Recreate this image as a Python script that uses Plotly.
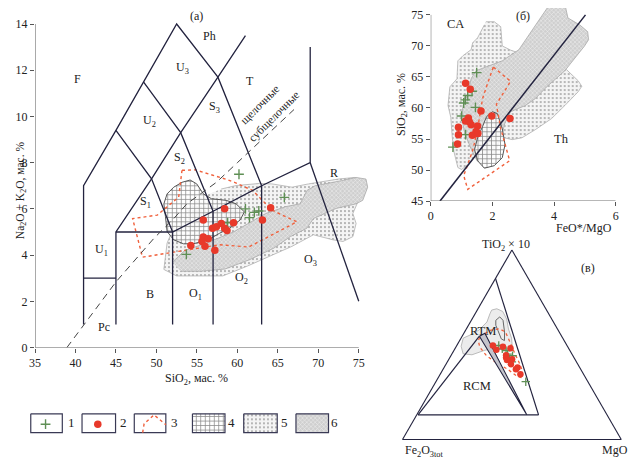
import plotly.graph_objects as go

W, H = 639, 469
OFF = 8  # page body margin of the rendered html
FONT = "Liberation Serif"
NAVY = "#23233f"
RED = "#e8392a"
GREEN = "#5f8f55"
REDLINE = "#f0603c"

# ---------------- (a) TAS diagram data ----------------
tas_red_x = [58.43, 55.79, 64.11, 63.1, 56.93, 57.41, 58.02, 58.43, 58.72, 59.53, 54.25, 55.79, 56.4, 55.63, 56.0, 57.22]
tas_red_y = [6.01, 5.52, 6.05, 5.52, 5.16, 5.23, 5.37, 5.16, 5.06, 5.4, 4.42, 4.78, 4.71, 4.59, 4.38, 4.21]
tas_green_x = [60.2, 61.0, 61.5, 62.1, 62.65, 58.8, 53.7, 65.8]
tas_green_y = [7.5, 6.0, 5.62, 5.85, 5.91, 5.4, 4.03, 6.5]

# field boundaries (Le Bas et al.)
tas_lines = [
    [(41, 1), (41, 7), (45, 9.4), (48.4, 11.5), (52.5, 14), (57.6, 11.7), (63, 7)],
    [(41, 3), (45, 3)],
    [(45, 1), (45, 5), (49.4, 7.3), (53, 9.3), (57.6, 11.7), (61, 13.5)],
    [(45, 9.4), (49.4, 7.3), (52, 5)],
    [(48.4, 11.5), (53, 9.3), (57, 5.9)],
    [(45, 5), (52, 5), (57, 5.9), (63, 7), (69, 8), (69, 13)],
    [(52, 1), (52, 5)],
    [(57, 1), (57, 5.9)],
    [(63, 1), (63, 7)],
    [(69, 8), (75, 2)],
]
tas_dash_x = [38.94, 45.0, 49.7, 52.14, 53.76, 57.41, 60.0, 62.1, 67.0]
tas_dash_y = [0.0, 2.84, 4.73, 5.58, 6.22, 7.15, 8.0, 8.7, 10.3]

tas_f5_x = [58.0, 59.84, 62.7, 64.3, 66.75, 68.78, 72.44, 74.47, 75.68, 75.9, 74.88, 74.27, 74.67, 74.27, 73.05, 71.83, 69.4, 66.75, 61.27, 58.2, 55.39, 52.5, 50.92, 51.12, 51.32, 52.5, 55.5]
tas_f5_y = [6.86, 7.01, 7.1, 7.08, 6.94, 7.08, 7.29, 7.36, 7.15, 6.79, 6.3, 5.8, 5.37, 4.8, 4.59, 4.66, 4.88, 4.38, 3.53, 3.1, 3.1, 3.1, 3.38, 3.88, 4.52, 5.5, 6.5]
tas_f6_x = [52.0, 53.5, 56.0, 59.5, 61.5, 63.5, 66.0, 67.76, 68.6, 69.6, 72.84, 74.67, 75.89, 76.1, 75.49, 74.67, 72.2, 69.4, 68.58, 66.55, 64.5, 61.5, 58.5, 55.5, 53.0]
tas_f6_y = [3.7, 4.2, 4.5, 5.0, 5.4, 5.8, 6.1, 6.22, 6.8, 7.0, 7.22, 7.36, 7.29, 6.94, 6.37, 6.22, 6.02, 5.58, 5.16, 4.8, 4.3, 3.8, 3.4, 3.3, 3.3]
tas_f4_x = [53.16, 54.17, 54.98, 55.8, 56.8, 58.62, 59.84, 60.87, 60.34, 59.04, 57.82, 56.4, 54.57, 53.35, 52.14, 51.32, 51.12, 50.92, 51.32, 52.14]
tas_f4_y = [7.15, 7.25, 7.08, 6.65, 6.44, 6.37, 6.22, 5.87, 5.52, 5.16, 4.95, 4.66, 4.49, 4.49, 4.66, 5.02, 5.66, 6.22, 6.65, 6.94]
tas_f3_x = [53.16, 54.78, 58.43, 59.65, 61.88, 64.3, 67.36, 61.4, 57.83, 51.73, 48.28, 47.06, 50.1, 52.75, 53.16]
tas_f3_y = [7.67, 7.69, 7.3, 7.15, 6.8, 5.94, 5.44, 4.35, 4.45, 4.09, 3.91, 5.58, 5.73, 6.51, 7.67]

tas_labels = [
    ("F", 40.2, 11.6), ("Ph", 56.6, 13.5), ("U<sub>3</sub>", 53.2, 12.1), ("T", 61.5, 11.55),
    ("U<sub>2</sub>", 49.1, 9.8), ("S<sub>3</sub>", 57.2, 10.4), ("S<sub>2</sub>", 52.8, 8.2),
    ("R", 71.9, 7.57), ("S<sub>1</sub>", 48.7, 6.3), ("U<sub>1</sub>", 43.2, 4.24), ("B", 49.2, 2.3),
    ("O<sub>1</sub>", 54.8, 2.3), ("O<sub>2</sub>", 60.5, 3.0), ("O<sub>3</sub>", 69.0, 3.8), ("Pc", 43.5, 0.9),
]
tas_xticks = [35, 40, 45, 50, 55, 60, 65, 70, 75]
tas_yticks = [0, 2, 4, 6, 8, 10, 12, 14]

# ---------------- (б) SiO2 vs FeO*/MgO ----------------
fm_red_x = [1.13, 1.28, 1.63, 1.98, 2.57, 1.22, 1.13, 1.25, 1.31, 1.52, 0.90, 0.90, 1.35, 1.47, 1.53, 0.87]
fm_red_y = [64.0, 63.0, 59.5, 58.7, 58.3, 58.4, 57.9, 57.8, 57.3, 57.1, 56.9, 55.7, 55.6, 56.2, 55.9, 54.2]
fm_green_x = [1.49, 1.34, 1.2, 1.12, 1.07, 1.45, 1.0, 1.13, 0.72]
fm_green_y = [65.7, 62.7, 62.0, 61.3, 60.8, 60.1, 58.7, 55.7, 53.7]
fm_line_x = [0.3, 5.02]
fm_line_y = [45, 75]
fm_f5_x = [1.79, 2.06, 2.27, 2.32, 2.6, 3.4, 4.4, 4.78, 4.9, 4.78, 4.35, 3.92, 3.39, 2.96, 2.64, 2.3, 1.9, 1.5, 1.2, 1.0, 0.88, 0.75, 0.70, 0.65, 0.56, 0.62, 0.85, 0.88, 1.04, 1.31, 1.36, 1.52, 1.74]
fm_f5_y = [73.9, 73.9, 73.1, 70.0, 69.3, 68.0, 66.2, 64.4, 63.5, 62.6, 60.4, 58.3, 56.5, 55.2, 54.9, 55.3, 54.5, 52.5, 50.8, 50.1, 50.4, 53.0, 55.2, 58.5, 60.4, 63.4, 64.7, 67.6, 68.4, 69.4, 70.5, 71.3, 73.4]
fm_f6_x = [1.15, 1.31, 1.47, 1.9, 2.32, 2.86, 3.5, 3.9, 4.13, 4.37, 4.45, 4.83, 5.09, 5.12, 4.99, 4.35, 3.76, 3.39, 3.07, 2.59, 2.4, 2.3, 2.1, 1.8, 1.5, 1.3, 1.1, 1.0, 1.05]
fm_f6_y = [61.5, 64.7, 66.0, 66.8, 67.6, 69.4, 74.2, 77.0, 77.2, 76.3, 74.5, 73.4, 72.3, 71.0, 70.0, 66.0, 63.4, 61.5, 60.4, 59.4, 57.5, 55.5, 53.0, 51.0, 51.5, 53.5, 56.0, 58.5, 60.5]
fm_f4_x = [2.0, 2.16, 2.32, 2.41, 2.32, 2.06, 1.74, 1.52, 1.42, 1.52, 1.68, 1.81]
fm_f4_y = [59.4, 59.1, 56.7, 54.1, 52.0, 50.7, 50.3, 51.5, 53.3, 55.2, 57.0, 58.6]
fm_f3_x = [2.03, 2.59, 2.13, 2.27, 2.56, 1.2, 1.07, 1.35, 1.5, 1.6, 1.68, 1.84, 2.03]
fm_f3_y = [66.6, 64.3, 60.6, 56.7, 51.5, 46.9, 49.1, 53.0, 56.0, 59.0, 61.5, 63.9, 66.6]
fm_xticks = [0, 2, 4, 6]
fm_yticks = [45, 50, 55, 60, 65, 70, 75]

# ---------------- (в) ternary TiO2*10 - Fe2O3tot - MgO ----------------
tr_red_a = [0.496, 0.474, 0.49, 0.481, 0.445, 0.433, 0.424, 0.419, 0.397, 0.38, 0.371, 0.344]
tr_red_b = [0.339, 0.334, 0.296, 0.266, 0.304, 0.31, 0.287, 0.313, 0.306, 0.284, 0.296, 0.289]
tr_red_c = [0.165, 0.192, 0.214, 0.253, 0.251, 0.257, 0.289, 0.268, 0.297, 0.336, 0.333, 0.367]
tr_green_a = [0.496, 0.478, 0.469, 0.451, 0.442, 0.424, 0.41, 0.305]
tr_green_b = [0.312, 0.305, 0.292, 0.294, 0.276, 0.299, 0.295, 0.284]
tr_green_c = [0.192, 0.217, 0.239, 0.255, 0.282, 0.277, 0.295, 0.411]
# boundary lines
tr_lines = [
    [(0.85, 0.15, 0.0), (0.13, 0.313, 0.557)],
    [(0.13, 0.864, 0.006), (0.13, 0.313, 0.557)],
    [(0.13, 0.864, 0.006), (0.545, 0.376, 0.079)],
]
tr_wedge = [(0.545, 0.376, 0.079), (0.561, 0.343, 0.096), (0.13, 0.367, 0.503), (0.545, 0.376, 0.079)]
tr_f5 = [(0.683, 0.251, 0.066), (0.690, 0.224, 0.086), (0.676, 0.204, 0.12), (0.636, 0.206, 0.158),
         (0.583, 0.224, 0.193), (0.535, 0.234, 0.231), (0.481, 0.257, 0.262), (0.471, 0.298, 0.231),
         (0.481, 0.338, 0.181), (0.471, 0.388, 0.141), (0.447, 0.459, 0.094), (0.452, 0.497, 0.051),
         (0.492, 0.486, 0.022), (0.535, 0.455, 0.01), (0.551, 0.416, 0.033), (0.578, 0.361, 0.061),
         (0.620, 0.304, 0.076), (0.663, 0.269, 0.068), (0.683, 0.251, 0.066)]
tr_f3 = [(0.540, 0.376, 0.084), (0.576, 0.313, 0.111), (0.584, 0.264, 0.152), (0.567, 0.246, 0.187),
         (0.513, 0.252, 0.235), (0.46, 0.259, 0.281), (0.406, 0.264, 0.33), (0.362, 0.271, 0.367),
         (0.326, 0.292, 0.382), (0.332, 0.309, 0.359), (0.371, 0.334, 0.295), (0.406, 0.369, 0.225),
         (0.442, 0.395, 0.163), (0.487, 0.403, 0.11), (0.522, 0.393, 0.085), (0.540, 0.376, 0.084)]
tr_f4 = [(0.629, 0.259, 0.112), (0.647, 0.232, 0.121), (0.629, 0.226, 0.145), (0.567, 0.25, 0.183),
         (0.522, 0.273, 0.205), (0.531, 0.283, 0.186), (0.576, 0.276, 0.148), (0.603, 0.272, 0.125),
         (0.629, 0.259, 0.112)]

legend_labels = ["1", "2", "3", "4", "5", "6"]


def pxx(x):
    return (x - OFF) / W


def pxy(y):
    return 1 - (y - OFF) / H


def px(x, y):
    return dict(x=pxx(x), y=pxy(y), xref="paper", yref="paper", xanchor="center", yanchor="middle")


PAT5 = dict(shape=".", size=4, solidity=0.18, fgcolor="#a0a0a0", bgcolor="#f4f4f4", fillmode="replace")
PAT6 = dict(shape="x", size=3, solidity=0.3, fgcolor="#f2f2f2", bgcolor="#cfcfcf", fillmode="replace")
PAT4 = dict(shape="+", size=4.5, solidity=0.3, fgcolor="#888888", bgcolor="rgba(255,255,255,0.85)", fillmode="replace")

fig = go.Figure()


def field(x, y, pat, lc, lw, xa, ya, dash="solid"):
    fig.add_trace(go.Scatter(x=x, y=y, mode="lines", fill="toself", fillpattern=pat,
                             line=dict(color=lc, width=lw, dash=dash), xaxis=xa, yaxis=ya,
                             hoverinfo="skip", showlegend=False))


def outline(x, y, lc, lw, xa, ya, dash="solid"):
    fig.add_trace(go.Scatter(x=x, y=y, mode="lines", line=dict(color=lc, width=lw, dash=dash),
                             xaxis=xa, yaxis=ya, hoverinfo="skip", showlegend=False))


PLUS = dict(symbol="cross-thin", size=7, line=dict(color=GREEN, width=1.4))
DOT = dict(color=RED, size=7.5)

# ----- (a) -----
field(tas_f5_x, tas_f5_y, PAT5, "#b0b0b0", 0.8, "x", "y")
field(tas_f6_x, tas_f6_y, PAT6, "#a8a8a8", 0.8, "x", "y")
field(tas_f4_x + [tas_f4_x[0]], tas_f4_y + [tas_f4_y[0]], PAT4, "#555555", 1.0, "x", "y")
outline(tas_f3_x, tas_f3_y, REDLINE, 1.4, "x", "y", "dot")
lx, ly = [], []
for seg in tas_lines:
    lx += [p[0] for p in seg] + [None]
    ly += [p[1] for p in seg] + [None]
outline(lx, ly, NAVY, 1.3, "x", "y")
outline(tas_dash_x, tas_dash_y, "#444444", 1.0, "x", "y", "7px,5px")
fig.add_trace(go.Scatter(x=tas_green_x, y=tas_green_y, mode="markers", xaxis="x", yaxis="y",
                         marker=PLUS, showlegend=False))
fig.add_trace(go.Scatter(x=tas_red_x, y=tas_red_y, mode="markers", xaxis="x", yaxis="y",
                         marker=DOT, showlegend=False))

# ----- (б) -----
field(fm_f5_x, fm_f5_y, PAT5, "#b0b0b0", 0.8, "x2", "y2")
field(fm_f6_x, fm_f6_y, PAT6, "#a8a8a8", 0.8, "x2", "y2")
field(fm_f4_x + [fm_f4_x[0]], fm_f4_y + [fm_f4_y[0]], PAT4, "#555555", 1.0, "x2", "y2")
outline(fm_f3_x, fm_f3_y, REDLINE, 1.4, "x2", "y2", "dot")
outline(fm_line_x, fm_line_y, NAVY, 1.5, "x2", "y2")
fig.add_trace(go.Scatter(x=fm_green_x, y=fm_green_y, mode="markers", xaxis="x2", yaxis="y2",
                         marker=PLUS, showlegend=False))
fig.add_trace(go.Scatter(x=fm_red_x, y=fm_red_y, mode="markers", xaxis="x2", yaxis="y2",
                         marker=DOT, showlegend=False))


# ----- (в) -----
def tern(pts):
    return [p[0] for p in pts], [p[1] for p in pts], [p[2] for p in pts]


a, b, c = tern(tr_f5)
fig.add_trace(go.Scatterternary(a=a, b=b, c=c, mode="lines", fill="toself", fillcolor="#ececec",
                                line=dict(color="#ababab", width=0.8), hoverinfo="skip", showlegend=False))
a, b, c = tern(tr_f4)
fig.add_trace(go.Scatterternary(a=a, b=b, c=c, mode="lines", line=dict(color="#666666", width=1),
                                hoverinfo="skip", showlegend=False))
a, b, c = tern(tr_f3)
fig.add_trace(go.Scatterternary(a=a, b=b, c=c, mode="lines", line=dict(color=REDLINE, width=1.3, dash="dot"),
                                hoverinfo="skip", showlegend=False))
ta, tb, tc = [], [], []
for seg in tr_lines:
    sa, sb, sc = tern(seg)
    ta += sa + [None]
    tb += sb + [None]
    tc += sc + [None]
fig.add_trace(go.Scatterternary(a=ta, b=tb, c=tc, mode="lines", line=dict(color=NAVY, width=1.2),
                                hoverinfo="skip", showlegend=False))
a, b, c = tern(tr_wedge)
fig.add_trace(go.Scatterternary(a=a, b=b, c=c, mode="lines", fill="toself", fillcolor="#c4c4cc",
                                line=dict(color=NAVY, width=1.1), hoverinfo="skip", showlegend=False))
fig.add_trace(go.Scatterternary(a=tr_green_a, b=tr_green_b, c=tr_green_c, mode="markers",
                                marker=dict(symbol="cross-thin", size=6, line=dict(color=GREEN, width=1.3)),
                                showlegend=False))
fig.add_trace(go.Scatterternary(a=tr_red_a, b=tr_red_b, c=tr_red_c, mode="markers",
                                marker=dict(color=RED, size=6.5), showlegend=False))

# ----- legend (axes whose units are reference pixels) -----
LX0, LX1, LY0, LY1 = 0.0, 0.56, 0.04, 0.14
lg_x = [(25, 57), (77, 111), (130, 162), (189, 222), (241, 275), (294, 327)]
lg_num_x = [66, 119, 171, 229, 282, 333]
lt, lb = 420, 439
pats = [None, None, None, PAT4, PAT5, PAT6]
for i, (x0, x1) in enumerate(lg_x):
    bx = [x0, x1, x1, x0, x0]
    by = [lt, lt, lb, lb, lt]
    if pats[i] is not None:
        fig.add_trace(go.Scatter(x=bx, y=by, mode="lines", fill="toself", fillpattern=pats[i],
                                 line=dict(color="#3a3a55", width=1.2), xaxis="x3", yaxis="y3",
                                 hoverinfo="skip", showlegend=False))
    else:
        fig.add_trace(go.Scatter(x=bx, y=by, mode="lines", line=dict(color="#3a3a55", width=1.2),
                                 xaxis="x3", yaxis="y3", hoverinfo="skip", showlegend=False))
fig.add_trace(go.Scatter(x=[40], y=[430.5], mode="markers", xaxis="x3", yaxis="y3",
                         marker=PLUS, showlegend=False))
fig.add_trace(go.Scatter(x=[93], y=[430.5], mode="markers", xaxis="x3", yaxis="y3",
                         marker=DOT, showlegend=False))
fig.add_trace(go.Scatter(x=[138.5, 140, 150, 162], y=[439, 430, 421, 431], mode="lines", xaxis="x3", yaxis="y3",
                         line=dict(color=REDLINE, width=1.4, dash="dot"), showlegend=False))

annotations = []
for i, t in enumerate(legend_labels):
    annotations.append(dict(text=t, x=lg_num_x[i], y=429, xref="x3", yref="y3", showarrow=False,
                            xanchor="center", yanchor="middle", font=dict(size=13, family=FONT, color="#222")))

for t, x, y in tas_labels:
    annotations.append(dict(text=t, x=x, y=y, xref="x", yref="y", showarrow=False,
                            xanchor="center", yanchor="middle", font=dict(size=12, family=FONT, color="#222")))

TXT = dict(family=FONT, color="#222")
annotations += [
    dict(text="щелочные", **px(258, 106), showarrow=False, textangle=-45, font=dict(size=11.5, **TXT)),
    dict(text="субщелочные", **px(272, 118), showarrow=False, textangle=-45, font=dict(size=11.5, **TXT)),
    dict(text="(a)", **px(193, 16), showarrow=False, font=dict(size=12, **TXT)),
    dict(text="Na<sub>2</sub>O + K<sub>2</sub>O, мас. %", **px(15, 193), showarrow=False, textangle=-90,
         font=dict(size=11.5, **TXT)),
    dict(text="SiO<sub>2</sub>, мас. %", **px(193, 385), showarrow=False, font=dict(size=12, **TXT)),
    dict(text="(б)", **px(524, 16), showarrow=False, font=dict(size=12, **TXT)),
    dict(text="CA", **px(456, 24), showarrow=False, font=dict(size=12.5, **TXT)),
    dict(text="Th", **px(563, 141), showarrow=False, font=dict(size=12.5, **TXT)),
    dict(text="SiO<sub>2</sub>, мас. %", **px(401, 106), showarrow=False, textangle=-90, font=dict(size=12, **TXT)),
    dict(text="FeO*/MgO", **px(586, 231), showarrow=False, font=dict(size=12, **TXT)),
    dict(text="TiO<sub>2</sub> × 10", **px(507, 249), showarrow=False, font=dict(size=12, **TXT)),
    dict(text="(в)", **px(590, 272), showarrow=False, font=dict(size=12, **TXT)),
    dict(text="RTM", **px(484, 336), showarrow=False, font=dict(size=12.5, **TXT)),
    dict(text="RCM", **px(478, 392), showarrow=False, font=dict(size=12.5, **TXT)),
    dict(text="Fe<sub>2</sub>O<sub>3tot</sub>", **px(424, 458), showarrow=False, font=dict(size=12, **TXT)),
    dict(text="MgO", **px(618, 457), showarrow=False, font=dict(size=12, **TXT)),
]

shapes = [
    dict(type="line", xref="x", yref="y", x0=35, y0=0, x1=75, y1=0, line=dict(color="#555", width=1)),
    dict(type="line", xref="x", yref="y", x0=35, y0=0, x1=35, y1=14, line=dict(color="#555", width=1)),
    dict(type="line", xref="x2", yref="y2", x0=0, y0=45, x1=0, y1=75, line=dict(color="#555", width=1)),
    dict(type="line", xref="x2", yref="y2", x0=0, y0=45, x1=6, y1=45, line=dict(color="#555", width=1)),
]

tickfont = dict(size=12, family=FONT, color="#222")
ax_common = dict(showgrid=False, zeroline=False, showline=False, ticks="outside", ticklen=4,
                 tickcolor="#555", tickfont=tickfont)

Y2TOP = 76.1
fig.update_layout(
    width=W, height=H, margin=dict(l=0, r=0, t=0, b=0),
    paper_bgcolor="white", plot_bgcolor="rgba(0,0,0,0)",
    font=dict(family=FONT, size=12, color="#222"),
    xaxis=dict(domain=[pxx(29.3), pxx(29.3 + 41.5 * 8.21)], range=[35, 76.5], tickvals=tas_xticks,
               anchor="y", **ax_common),
    yaxis=dict(domain=[pxy(352.7), pxy(352.7 - 14.3 * 23.46)], range=[0, 14.3], tickvals=tas_yticks,
               anchor="x", **ax_common),
    xaxis2=dict(domain=[pxx(430.7), pxx(618.3)], range=[0, 6], tickvals=fm_xticks, anchor="y2", **ax_common),
    yaxis2=dict(domain=[pxy(204), min(1.0, pxy(204 - (Y2TOP - 45) * 6.3))], range=[45, Y2TOP],
                tickvals=fm_yticks, anchor="x2", **ax_common),
    xaxis3=dict(domain=[LX0, LX1], range=[LX0 * W + OFF, LX1 * W + OFF], visible=False, anchor="y3"),
    yaxis3=dict(domain=[LY0, LY1], range=[(1 - LY0) * H + OFF, (1 - LY1) * H + OFF], visible=False, anchor="x3"),
    ternary=dict(
        domain=dict(x=[pxx(402), pxx(624)], y=[pxy(446), pxy(253.7)]), sum=1, bgcolor="rgba(0,0,0,0)",
        aaxis=dict(showgrid=False, showticklabels=False, ticks="", linecolor=NAVY, linewidth=1.1, title=dict(text="")),
        baxis=dict(showgrid=False, showticklabels=False, ticks="", linecolor=NAVY, linewidth=1.1, title=dict(text="")),
        caxis=dict(showgrid=False, showticklabels=False, ticks="", linecolor=NAVY, linewidth=1.1, title=dict(text="")),
    ),
    annotations=annotations, shapes=shapes, showlegend=False,
)

fig.write_html("out.html")
